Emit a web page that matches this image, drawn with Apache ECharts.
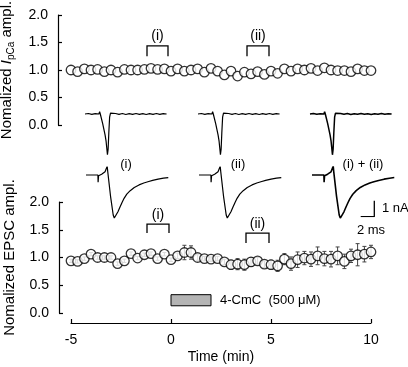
<!DOCTYPE html>
<html><head><meta charset="utf-8">
<script src="https://cdn.jsdelivr.net/npm/echarts@6/dist/echarts.min.js"></script>
<style>html,body{margin:0;padding:0;background:#fff}#c{width:408px;height:367px}</style>
</head><body><div id="c"></div>
<script>
// ---- data ----
const timeMin = [-5.00,-4.67,-4.33,-4.00,-3.67,-3.33,-3.00,-2.67,-2.33,-2.00,-1.67,-1.33,-1.00,-0.67,-0.33,0.00,0.33,0.67,1.00,1.33,1.67,2.00,2.33,2.67,3.00,3.33,3.67,4.00,4.33,4.67,5.00,5.33,5.67,6.00,6.33,6.67,7.00,7.33,7.67,8.00,8.33,8.67,9.00,9.33,9.67,10.00];
const ipcaAmpl = [1.00,0.97,1.02,1.00,1.01,0.97,1.00,0.96,1.01,1.00,
                  1.00,1.01,1.03,1.01,1.02,0.98,1.02,0.98,1.00,1.02,
                  0.96,1.03,0.98,0.91,0.98,0.89,0.96,0.93,0.97,0.92,
                  0.98,0.94,1.02,0.98,1.02,1.00,1.03,0.99,1.04,1.00,
                  0.99,0.99,0.97,1.02,0.99,0.99];
const epscAmpl = [0.94,0.93,0.98,1.06,1.00,1.00,1.00,0.89,0.94,1.07,
                  0.99,1.05,1.07,0.98,1.06,0.96,1.03,1.09,1.09,1.00,
                  0.98,0.97,0.98,0.92,0.87,0.88,0.87,0.92,0.94,0.88,
                  0.87,0.85,0.97,0.89,0.96,0.99,0.97,1.03,0.98,0.97,
                  1.03,0.93,1.03,1.05,1.06,1.10];
const epscErr = [0.03,0.03,0.03,0.03,0.03,0.03,0.03,0.03,0.03,0.03,
                 0.03,0.03,0.03,0.03,0.03,0.03,0.05,0.13,0.12,0.05,
                 0.04,0.04,0.04,0.05,0.08,0.10,0.10,0.08,0.06,0.06,
                 0.08,0.10,0.10,0.12,0.14,0.12,0.13,0.16,0.13,0.14,
                 0.16,0.13,0.12,0.20,0.14,0.12];
const timeTicks = [-5, 0, 5, 10];
const amplTicks = [0, 0.5, 1.0, 1.5, 2.0];
// example traces: [ms, nA]
const ipcaTrace = [[0,0],[0.5,0.03],[1.0,-0.02],[1.5,0.02],[2.05,0],[2.15,0.15],[2.25,0],[2.6,-0.6],[2.95,-1.3],[3.1,-1.7],[3.3,-2.55],[3.4,-2.2],[3.5,-1.2],[3.62,-0.2],[3.75,0.05],[3.9,0],[4.5,0.03],[5,-0.02],[5.5,0.03],[6,-0.03],[6.5,0.02],[7,-0.02],[7.5,0.03],[8,-0.02],[8.5,0.02],[9,-0.03],[9.5,0.02],[10,-0.02],[10.5,0.03],[11,-0.02],[11.5,0.02],[12,0]];
const epscTrace = [[0,0],[1.75,0],[1.78,-0.45],[1.85,-0.05],[2.3,0.05],[2.8,0.2],[3.05,0.3],[3.12,0.55],[3.2,0.2],[3.6,-1.3],[4.0,-2.5],[4.16,-2.69],[4.4,-2.6],[4.7,-2.3],[5.0,-2.0],[5.3,-1.72],[5.6,-1.46],[6.0,-1.2],[6.5,-0.98],[7.1,-0.78],[7.8,-0.62],[8.5,-0.5],[9.1,-0.42],[9.8,-0.34],[10.6,-0.26],[11.4,-0.2],[12.1,-0.16]];
const traceLabels = ['(i)', '(ii)', '(i) + (ii)'];
const scaleBar = {ms: 2, nA: 1};
const ipcaBrackets = [{label:'(i)', from:-1.2, to:-0.15, top:1.44, leg:1.25, lbl:1.62},
                      {label:'(ii)', from:3.8, to:4.9, top:1.44, leg:1.25, lbl:1.62}];
const epscBrackets = [{label:'(i)', from:-1.2, to:-0.1, top:1.6, leg:1.44, lbl:1.76},
                      {label:'(ii)', from:3.75, to:4.9, top:1.44, leg:1.26, lbl:1.6}];
const drug = {label:'4-CmC  (500 \u03bcM)', from:0, to:2, low:0.13, high:0.33};

// ---- chart ----
const FONT = '"Liberation Sans", Arial, sans-serif';
const chart = echarts.init(document.getElementById('c'), null, {renderer:'canvas'});

function bracketSeries(xi, yi, brackets){
  return {type:'custom', xAxisIndex:xi, yAxisIndex:yi, z:5,
    data: brackets.map(b=>[b.from,b.to,b.top,b.leg,b.lbl]),
    renderItem(params, api){
      const a=api.value(0), b=api.value(1), top=api.value(2), leg=api.value(3), lbl=api.value(4);
      const p1=api.coord([a,leg]), p2=api.coord([a,top]), p3=api.coord([b,top]), p4=api.coord([b,leg]);
      const t=api.coord([(a+b)/2,lbl]);
      return {type:'group', children:[
        {type:'polyline', shape:{points:[p1,p2,p3,p4]}, style:{stroke:'#000', lineWidth:1.3, fill:null}},
        {type:'text', x:t[0], y:t[1], style:{text:brackets[params.dataIndex].label, font:'14px '+FONT, fill:'#000', align:'center', verticalAlign:'middle'}}
      ]};
    }};
}

const G = (o)=>Object.assign({outerBoundsMode:'none', containLabel:false}, o);
const grids = [
  G({left:58, top:15, width:313, height:110}),   // 0 top plot
  G({left:59, top:202, width:312, height:111}),  // 1 bottom plot
  G({left:71, top:300, width:300, height:23}),   // 2 time axis
];
const topTraceLeft = [85, 198, 310];
const botTraceLeft = [86, 199, 312];
const traceW = 82, traceMs = 82/6.8;
topTraceLeft.forEach(l=>grids.push(G({left:l, top:106, width:traceW, height:56})));
botTraceLeft.forEach(l=>grids.push(G({left:l, top:167, width:traceW, height:56})));
grids.push(G({left:360.7, top:200.7, width:13.6, height:16})); // 9 scale bar

const xAxes = [], yAxes = [];
const hiddenAxis = (gi, min, max)=>({gridIndex:gi, type:'value', min, max, show:false});
const yTickAxis = (gi)=>({gridIndex:gi, type:'value', min:amplTicks[0], max:amplTicks[amplTicks.length-1], interval:0.5,
  axisLine:{show:true, onZero:false, lineStyle:{color:'#000', width:1.2}},
  axisTick:{show:true, inside:true, length:4, lineStyle:{color:'#000', width:1.2}},
  axisLabel:{color:'#000', fontSize:14, fontFamily:FONT, margin:10, formatter:v=>v.toFixed(1)},
  splitLine:{show:false}, nameLocation:'middle', nameGap:42, nameRotate:90});
xAxes.push(hiddenAxis(0, -5.65, 10));
yAxes.push(Object.assign(yTickAxis(0), {name:'Nomalized {i|I}{s|pCa} ampl.',
  nameTextStyle:{color:'#000', fontSize:15, fontFamily:FONT,
    rich:{i:{fontStyle:'italic', fontSize:15, fontFamily:FONT, color:'#000'},
          s:{fontSize:10, fontFamily:FONT, color:'#000', padding:[8,0,0,0]}}}}));
xAxes.push(hiddenAxis(1, -5.6, 10));
yAxes.push(Object.assign(yTickAxis(1), {name:'Nomalized EPSC ampl.',
  nameTextStyle:{color:'#000', fontSize:15, fontFamily:FONT}}));
xAxes.push({gridIndex:2, type:'value', min:timeTicks[0], max:timeTicks[timeTicks.length-1], interval:5,
  axisLine:{show:true, onZero:false, lineStyle:{color:'#000', width:1.2}},
  axisTick:{show:true, inside:true, length:4, lineStyle:{color:'#000', width:1.2}},
  axisLabel:{color:'#000', fontSize:14, fontFamily:FONT, margin:10},
  splitLine:{show:false}, name:'Time (min)', nameLocation:'middle', nameGap:27,
  nameTextStyle:{color:'#000', fontSize:14, fontFamily:FONT}});
yAxes.push(hiddenAxis(2, 0, 1));
for (let k=0;k<3;k++){ xAxes.push(hiddenAxis(3+k, 0, traceMs)); yAxes.push(hiddenAxis(3+k, -3, 0.5)); }
for (let k=0;k<3;k++){ xAxes.push(hiddenAxis(6+k, 0, traceMs)); yAxes.push(hiddenAxis(6+k, -3, 0.5)); }
xAxes.push(hiddenAxis(9, 0, scaleBar.ms)); yAxes.push(hiddenAxis(9, 0, scaleBar.nA));

const circleStyle = {color:'#fff', borderColor:'#000', borderWidth:1.3};
const series = [
  {type:'scatter', xAxisIndex:0, yAxisIndex:0, symbol:'circle', symbolSize:9.5, itemStyle:circleStyle, z:4,
   data: timeMin.map((t,i)=>[t, ipcaAmpl[i]])},
  {type:'custom', xAxisIndex:1, yAxisIndex:1, z:2,
   data: timeMin.map((t,i)=>[t, epscAmpl[i], epscErr[i]]),
   renderItem(params, api){
     const x=api.value(0), y=api.value(1), e=api.value(2);
     const hi=api.coord([x,y+e]), lo=api.coord([x,y-e]);
     const st={stroke:'#444', lineWidth:1};
     return {type:'group', children:[
       {type:'line', shape:{x1:hi[0],y1:hi[1],x2:lo[0],y2:lo[1]}, style:st},
       {type:'line', shape:{x1:hi[0]-2,y1:hi[1],x2:hi[0]+2,y2:hi[1]}, style:st},
       {type:'line', shape:{x1:lo[0]-2,y1:lo[1],x2:lo[0]+2,y2:lo[1]}, style:st}
     ]};
   }},
  {type:'scatter', xAxisIndex:1, yAxisIndex:1, symbol:'circle', symbolSize:9.5, itemStyle:circleStyle, z:4,
   data: timeMin.map((t,i)=>[t, epscAmpl[i]])},
  bracketSeries(0,0,ipcaBrackets),
  bracketSeries(1,1,epscBrackets),
  {type:'custom', xAxisIndex:1, yAxisIndex:1, z:3,
   data:[[drug.from, drug.to, drug.low, drug.high]],
   renderItem(params, api){
     const p0=api.coord([api.value(0), api.value(3)]), p1=api.coord([api.value(1), api.value(2)]);
     return {type:'group', children:[
       {type:'rect', shape:{x:p0[0], y:p0[1], width:p1[0]-p0[0], height:p1[1]-p0[1]}, style:{fill:'#b4b4b4', stroke:'#000', lineWidth:1}},
       {type:'text', x:p1[0]+9, y:(p0[1]+p1[1])/2, style:{text:drug.label, font:'13px '+FONT, fill:'#000', align:'left', verticalAlign:'middle'}}
     ]};
   }},
];
for (let k=0;k<3;k++){
  series.push({type:'line', xAxisIndex:3+k, yAxisIndex:3+k, data:ipcaTrace, symbol:'none', silent:true,
    lineStyle:{color:'#000', width:k===2?1.5:1.2}});
  series.push({type:'line', xAxisIndex:6+k, yAxisIndex:6+k, data:epscTrace, symbol:'none', silent:true,
    lineStyle:{color:'#000', width:k===2?1.6:1.2}});
}
series.push({type:'line', xAxisIndex:9, yAxisIndex:9, symbol:'none',
  data:[[0,0],[scaleBar.ms,0],[scaleBar.ms,scaleBar.nA]], lineStyle:{color:'#000', width:1.3}});

const textEl = (x,y,text,size,align)=>({type:'text', x, y, style:{text, font:size+'px '+FONT, fill:'#000', align:align||'center', verticalAlign:'middle'}});
const graphic = [
  textEl(126,164,traceLabels[0],13), textEl(238,164,traceLabels[1],13), textEl(363,164,traceLabels[2],13),
  textEl(382,208,scaleBar.nA+' nA',13,'left'), textEl(371,230,scaleBar.ms+' ms',13),
];

chart.setOption({animation:false, backgroundColor:'#fff', textStyle:{fontFamily:FONT},
  grid:grids, xAxis:xAxes, yAxis:yAxes, series, graphic});
</script></body></html>
